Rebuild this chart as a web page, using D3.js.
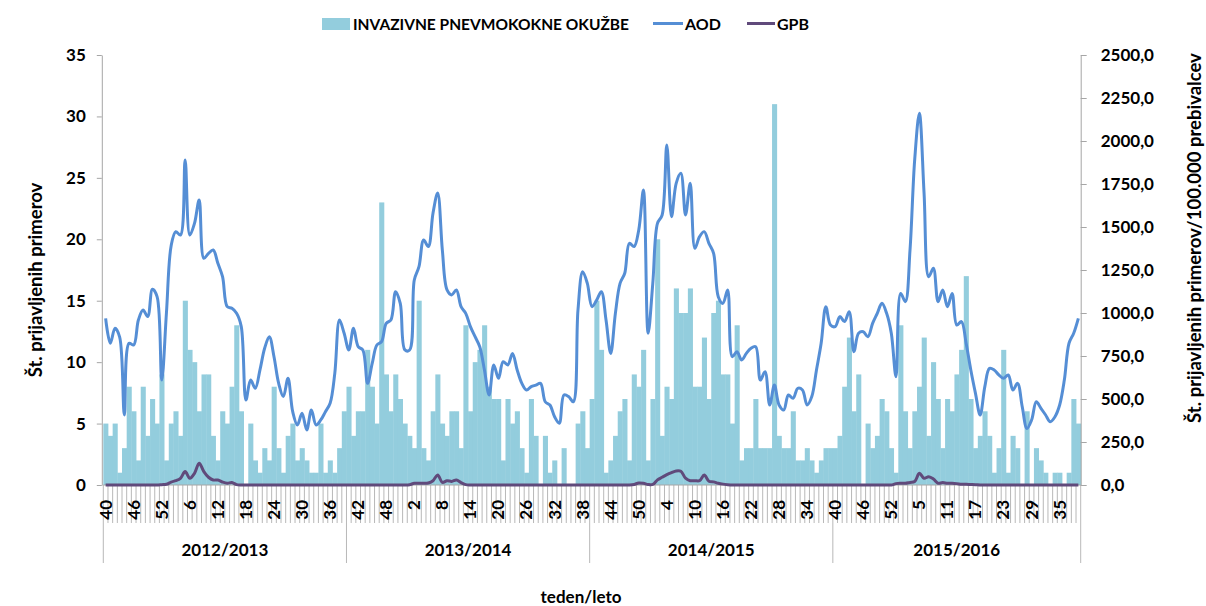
<!DOCTYPE html>
<html lang="sl">
<head>
<meta charset="utf-8">
<title>Invazivne pnevmokokne okužbe</title>
<script src="https://cdn.jsdelivr.net/npm/d3@7"></script>
<style>
  body { margin: 0; background: #fff; }
  text { font-family: Lato, "Open Sans", sans-serif; font-weight: bold; fill: #000; }
</style>
</head>
<body>
<script>
var w = 1206, h = 606;
var plotLeft = 103.3, plotRight = 1080.7, plotTop = 55, plotBottom = 485;

// seasons: week 40 to week 39 of next year
var seasons = ["2012/2013", "2013/2014", "2014/2015", "2015/2016"];
var lastWeekOfYear = [52, 52, 52, 53];
var firstWeek = 40, lastWeek = 39;

// weekly number of reported cases (bars, left axis)
var cases2012 = [5,4,5,1,3,8,6,2,8,4, 7,5,9,2,5,6,4,15,11,10, 6,9,9,4,2,6,5,8,13,6, 0,5,2,1,3,2,8,3,1,4, 5,2,3,2,1,1,5,1,2,1, 3,6];
var cases2013 = [8,4,6,6,11,8,5,23,9,6, 9,7,5,4,3,15,3,2,6,9, 5,4,6,6,3,13,6,10,11,13, 8,7,7,2,7,5,6,3,1,7, 4,0,4,1,2,0,3,0,0,5, 6,3];
var cases2014 = [7,15,11,1,2,4,6,7,2,9, 8,11,2,7,20,4,8,7,16,14, 14,16,8,8,12,7,14,15,9,9, 5,13,2,3,3,7,3,3,3,31, 4,3,3,6,2,2,3,2,1,2, 3,3];
var cases2015 = [3,4,8,12,6,9,0,5,3,4, 7,6,3,1,13,6,3,6,8,12, 4,10,7,3,7,6,9,11,17,7, 3,4,6,4,1,3,11,1,4,3, 0,6,0,3,2,1,0,1,1,0, 1,7,5];

// AOD per 100.000 (right axis)
var aod2012 = [969,824,911,860,407,824,814,959,1017,979, 1138,1095,610,1000,1390,1473,1453,1890,1453,1521, 1657,1318,1347,1366,1289,1211,1037,1027,998,921, 494,610,562,669,795,862,746,591,514,620, 426,349,417,320,436,349,378,426,475,649, 959,882];
var aod2013 = [785,911,804,785,591,707,814,833,940,959, 1124,1056,785,785,1192,1269,1424,1386,1580,1698, 1366,1134,1105,1134,1037,998,921,862,804,669, 523,698,620,717,698,765,669,591,552,572, 581,591,484,465,397,359,523,514,484,1017, 1240,1172];
var aod2014 = [1037,1075,1124,959,765,998,1172,1231,1405,1386, 1483,1715,882,1172,1521,1570,1977,1560,1754,1812, 1570,1754,1376,1444,1473,1405,1347,1095,1056,1134, 746,775,727,765,795,804,610,659,465,581, 465,436,523,504,562,552,465,514,669,824, 1037,930];
var aod2015 = [921,979,950,1008,775,882,891,862,940,998, 1056,998,882,630,1114,1066,1366,1890,2161,1700, 1211,1260,1066,1134,1037,1114,930,950,824,669, 533,407,572,678,669,640,620,640,552,591, 455,329,378,484,446,407,368,397,465,610, 824,882,969];

// GPB per 100.000 (right axis)
var gpb2012 = [0,0,0,0,0,0,0,0,0,0, 0,0,2,4,17,25,39,78,39,68, 126,78,45,29,29,17,10,14,2,0, 0,0,0,0,0,0,0,0,0,0, 0,0,0,0,0,0,0,0,0,0, 0,0];
var gpb2013 = [0,0,0,0,0,0,0,0,0,0, 0,0,0,2,10,10,10,12,25,58, 15,25,21,29,14,2,0,0,0,0, 0,0,0,0,0,0,0,0,0,0, 0,0,0,0,0,0,0,0,0,0, 0,0];
var gpb2014 = [0,0,0,0,0,0,0,0,0,3, 12,10,3,3,30,45,60,72,82,80, 40,25,25,25,58,22,18,10,5,2, 0,0,0,0,0,0,0,0,0,0, 0,0,0,0,0,0,0,0,0,0, 0,0];
var gpb2015 = [0,0,0,0,0,0,0,0,0,0, 0,0,0,8,10,10,15,20,68,39, 48,35,10,14,10,10,8,4,4,3, 2,0,0,0,0,0,0,0,0,0, 0,0,0,0,0,0,0,0,0,0, 0,0,0];

var leftTicks = [0, 5, 10, 15, 20, 25, 30, 35];
var rightTicks = [0, 250, 500, 750, 1000, 1250, 1500, 1750, 2000, 2250, 2500];

var cases = [].concat(cases2012, cases2013, cases2014, cases2015);
var aod = [].concat(aod2012, aod2013, aod2014, aod2015);
var gpb = [].concat(gpb2012, gpb2013, gpb2014, gpb2015);

// week categories
var weeks = [], seasonStart = [];
seasons.forEach(function(s, k) {
	seasonStart.push(weeks.length);
	for (var wk = firstWeek; wk <= lastWeekOfYear[k]; wk++) weeks.push(wk);
	for (var wk2 = 1; wk2 <= lastWeek; wk2++) weeks.push(wk2);
});
seasonStart.push(weeks.length);

var barColor = "#93CDDD", aodColor = "#558ED5", gpbColor = "#604A7B", axisColor = "#A6A6A6";

var xScale = d3.scaleBand()
	.domain(d3.range(weeks.length))
	.range([plotLeft, plotRight])
	.paddingInner(0);
var bw = xScale.bandwidth();
var yLeft = d3.scaleLinear().domain([0, 35]).range([plotBottom, plotTop]);
var yRight = d3.scaleLinear().domain([0, 2500]).range([plotBottom, plotTop]);

function edge(i) { return i < weeks.length ? xScale(i) : xScale(weeks.length - 1) + bw; }

var svg = d3.select("body").append("svg")
	.attr("width", w)
	.attr("height", h);

//bars
svg.append("g").selectAll("rect")
	.data(cases)
	.enter()
	.append("rect")
	.attr("x", function(d, i) { return xScale(i); })
	.attr("y", function(d) { return yLeft(d); })
	.attr("width", bw + 0.4)
	.attr("height", function(d) { return plotBottom - yLeft(d); })
	.attr("fill", barColor);

//left axis
var axL = svg.append("g")
	.attr("transform", "translate(" + (plotLeft - 1.5) + ",0)")
	.call(d3.axisLeft(yLeft).tickValues(leftTicks).tickSize(5).tickPadding(11).tickSizeOuter(0));
axL.select(".domain").attr("stroke", axisColor);
axL.selectAll(".tick line").attr("stroke", axisColor);
axL.selectAll("text").attr("font-size", 17).attr("font-family", null);

//right axis
var fmt = d3.format(".1f");
var axR = svg.append("g")
	.attr("transform", "translate(" + plotRight + ",0)")
	.call(d3.axisRight(yRight).tickValues(rightTicks).tickSize(6).tickPadding(14).tickSizeOuter(0)
		.tickFormat(function(d) { return fmt(d).replace(".", ","); }));
axR.select(".domain").attr("stroke", axisColor);
axR.selectAll(".tick line").attr("stroke", axisColor);
axR.selectAll("text").attr("font-size", 17).attr("font-family", null);

//x axis: week ticks and season dividers
var xa = svg.append("g");
xa.selectAll("line.wk")
	.data(d3.range(weeks.length + 1))
	.enter()
	.append("line")
	.attr("x1", function(i) { return edge(i); })
	.attr("x2", function(i) { return edge(i); })
	.attr("y1", plotBottom)
	.attr("y2", function(i) { return seasonStart.indexOf(i) >= 0 ? plotBottom + 78 : plotBottom + 38; })
	.attr("stroke", axisColor)
	.attr("stroke-width", 0.8);
xa.append("line")
	.attr("x1", plotLeft).attr("x2", plotRight)
	.attr("y1", plotBottom).attr("y2", plotBottom)
	.attr("stroke", axisColor);

xa.selectAll("text.wk")
	.data(d3.range(0, weeks.length, 6))
	.enter()
	.append("text")
	.attr("transform", function(i) { return "translate(" + (xScale(i) + bw / 2) + "," + (plotBottom + 15) + ") rotate(-90)"; })
	.attr("text-anchor", "end")
	.attr("dy", "0.35em")
	.attr("font-size", 17)
	.text(function(i) { return weeks[i]; });

xa.selectAll("text.season")
	.data(seasons)
	.enter()
	.append("text")
	.attr("x", function(d, k) { return (edge(seasonStart[k]) + edge(seasonStart[k + 1])) / 2; })
	.attr("y", 556)
	.attr("text-anchor", "middle")
	.attr("font-size", 17)
	.text(function(d) { return d; });

//lines
var lineGen = d3.line()
	.x(function(d, i) { return xScale(i) + bw / 2; })
	.y(function(d) { return yRight(d); })
	.curve(d3.curveCatmullRom.alpha(0.5));

svg.append("path")
	.datum(gpb)
	.attr("d", lineGen)
	.attr("fill", "none")
	.attr("stroke", gpbColor)
	.attr("stroke-width", 3);

svg.append("path")
	.datum(aod)
	.attr("d", lineGen)
	.attr("fill", "none")
	.attr("stroke", aodColor)
	.attr("stroke-width", 3);

//axis titles
svg.append("text")
	.attr("transform", "translate(36,280) rotate(-90)")
	.attr("text-anchor", "middle")
	.attr("dy", "0.35em")
	.attr("font-size", 18.5)
	.text("Št. prijavljenih primerov");
svg.append("text")
	.attr("transform", "translate(1195,238) rotate(-90)")
	.attr("text-anchor", "middle")
	.attr("dy", "0.35em")
	.attr("font-size", 18.5)
	.text("Št. prijavljenih primerov/100.000 prebivalcev");
svg.append("text")
	.attr("x", 581)
	.attr("y", 603)
	.attr("text-anchor", "middle")
	.attr("font-size", 17)
	.text("teden/leto");

//legend
var lg = svg.append("g");
lg.append("rect").attr("x", 322).attr("y", 18).attr("width", 28).attr("height", 12).attr("fill", barColor);
lg.append("text").attr("x", 353).attr("y", 30).attr("font-size", 15.5).text("INVAZIVNE PNEVMOKOKNE OKUŽBE");
lg.append("line").attr("x1", 653).attr("x2", 683).attr("y1", 23.5).attr("y2", 23.5).attr("stroke", aodColor).attr("stroke-width", 3);
lg.append("text").attr("x", 685).attr("y", 30).attr("font-size", 16).text("AOD");
lg.append("line").attr("x1", 747).attr("x2", 775).attr("y1", 23.5).attr("y2", 23.5).attr("stroke", gpbColor).attr("stroke-width", 3);
lg.append("text").attr("x", 777).attr("y", 30).attr("font-size", 16).text("GPB");
</script>
</body>
</html>
